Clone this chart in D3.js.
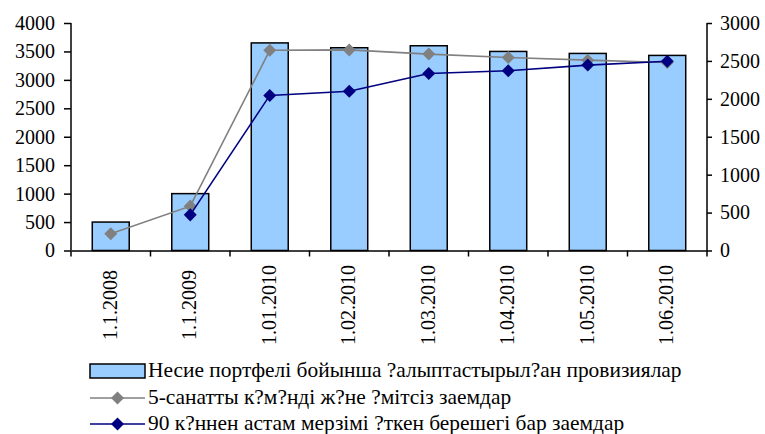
<!DOCTYPE html>
<html><head><meta charset="utf-8">
<script src="https://cdn.jsdelivr.net/npm/d3@7/dist/d3.min.js"></script>
<style>
html,body{margin:0;padding:0;background:#fff;}
svg text{font-family:'Liberation Serif' !important;}
</style></head>
<body>
<svg id="c" width="765" height="434"></svg>
<script>
const categories = ["1.1.2008","1.1.2009","1.01.2010","1.02.2010","1.03.2010","1.04.2010","1.05.2010","1.06.2010"];
const provisions = [500,1000,3650,3565,3600,3500,3465,3430];
const category5Loans = [220,585,2640,2645,2590,2545,2510,2480];
const overdueLoans = [null,470,2045,2100,2335,2370,2445,2495];
const leftTicks = [0,500,1000,1500,2000,2500,3000,3500,4000];
const rightTicks = [0,500,1000,1500,2000,2500,3000];
const legendLabels = [
  "Несие портфелі бойынша ?алыптастырыл?ан провизиялар",
  "5-санатты к?м?нді ж?не ?мітсіз заемдар",
  "90 к?ннен астам мерзімі ?ткен берешегі бар заемдар"
];

const FONT = "Liberation Serif";
const svg = d3.select("#c").attr("font-family", FONT);
const L = 71, R = 707, T = 23, B = 250.5;
const FS = 20;

const x = d3.scaleBand().domain(categories).range([L, R]).padding(0);
const yL = d3.scaleLinear().domain([0, 4000]).range([B, T]);
const yR = d3.scaleLinear().domain([0, 3000]).range([B, T]);
const barW = x.bandwidth() * 0.465;
const cx = c => x(c) + x.bandwidth() / 2;

function txt(sel, size) {
  return sel.attr("font-family", FONT).style("font-family", FONT).attr("font-size", size).attr("fill", "#000");
}

// bars
svg.append("g").selectAll("rect").data(categories).join("rect")
  .attr("x", c => cx(c) - barW / 2)
  .attr("y", (c, i) => yL(provisions[i]))
  .attr("width", barW)
  .attr("height", (c, i) => B - yL(provisions[i]))
  .attr("fill", "#99CCFF").attr("stroke", "#000").attr("stroke-width", 1.5);

// axes
const axL = svg.append("g").attr("transform", `translate(${L},0)`)
  .call(d3.axisLeft(yL).tickValues(leftTicks).tickSize(7).tickPadding(9).tickFormat(d3.format("d")));
const axR = svg.append("g").attr("transform", `translate(${R},0)`)
  .call(d3.axisRight(yR).tickValues(rightTicks).tickSize(5).tickPadding(8).tickFormat(d3.format("d")));
const axB = svg.append("g").attr("transform", `translate(0,${B})`)
  .call(d3.axisBottom(x).tickSize(0).tickFormat(""));
[axL, axR, axB].forEach(a => {
  a.attr("font-family", FONT).attr("font-size", FS);
  a.select(".domain").attr("stroke", "#000").attr("stroke-width", 1.5);
  a.selectAll(".tick line").attr("stroke", "#000").attr("stroke-width", 1.5);
  txt(a.selectAll("text"), FS);
});
axL.select(".domain").attr("d", `M0,${T}V${B}`);
axR.select(".domain").attr("d", `M0,${T}V${B}`);
// category boundary ticks
const bounds = categories.map(c => x(c)).concat([R]);
svg.append("g").selectAll("line").data(bounds).join("line")
  .attr("x1", d => d).attr("x2", d => d).attr("y1", B).attr("y2", B + 6)
  .attr("stroke", "#000").attr("stroke-width", 1.5);
// category labels rotated
txt(svg.append("g").selectAll("text").data(categories).join("text")
  .attr("transform", c => `translate(${cx(c) + 6},305) rotate(-90)`)
  .attr("text-anchor", "middle")
  .text(c => c), FS);

// lines
function series(vals, color) {
  const pts = categories.map((c, i) => ({c, v: vals[i]})).filter(d => d.v != null);
  svg.append("path").datum(pts)
    .attr("d", d3.line().x(d => cx(d.c)).y(d => yR(d.v)))
    .attr("fill", "none").attr("stroke", color).attr("stroke-width", 1.6);
  svg.append("g").selectAll("path").data(pts).join("path")
    .attr("transform", d => `translate(${cx(d.c)},${yR(d.v)}) rotate(45)`)
    .attr("d", d3.symbol().type(d3.symbolSquare).size(85))
    .attr("fill", color);
}
series(category5Loans, "#808080");
series(overdueLoans, "#000080");

// legend
const lg = svg.append("g");
const lx0 = 90, lx1 = 145, rows = [371, 398, 424];
lg.append("rect").attr("x", lx0).attr("y", rows[0] - 7).attr("width", lx1 - lx0).attr("height", 14)
  .attr("fill", "#99CCFF").attr("stroke", "#000").attr("stroke-width", 1.5);
[["#808080", rows[1]], ["#000080", rows[2]]].forEach(([col, y]) => {
  lg.append("line").attr("x1", lx0).attr("x2", lx1).attr("y1", y).attr("y2", y)
    .attr("stroke", col).attr("stroke-width", 1.6);
  lg.append("path").attr("transform", `translate(${(lx0 + lx1) / 2},${y}) rotate(45)`)
    .attr("d", d3.symbol().type(d3.symbolSquare).size(85)).attr("fill", col);
});
const lt = txt(lg.selectAll("text").data(legendLabels).join("text")
  .attr("x", 148).attr("y", (d, i) => rows[i] + 5.5)
  .text(d => d), 20);
const w0 = lt.nodes()[0].getComputedTextLength();
const lfs = Math.min(22, 20 * 534 / w0);
lt.attr("font-size", lfs.toFixed(2));
</script>
</body></html>
